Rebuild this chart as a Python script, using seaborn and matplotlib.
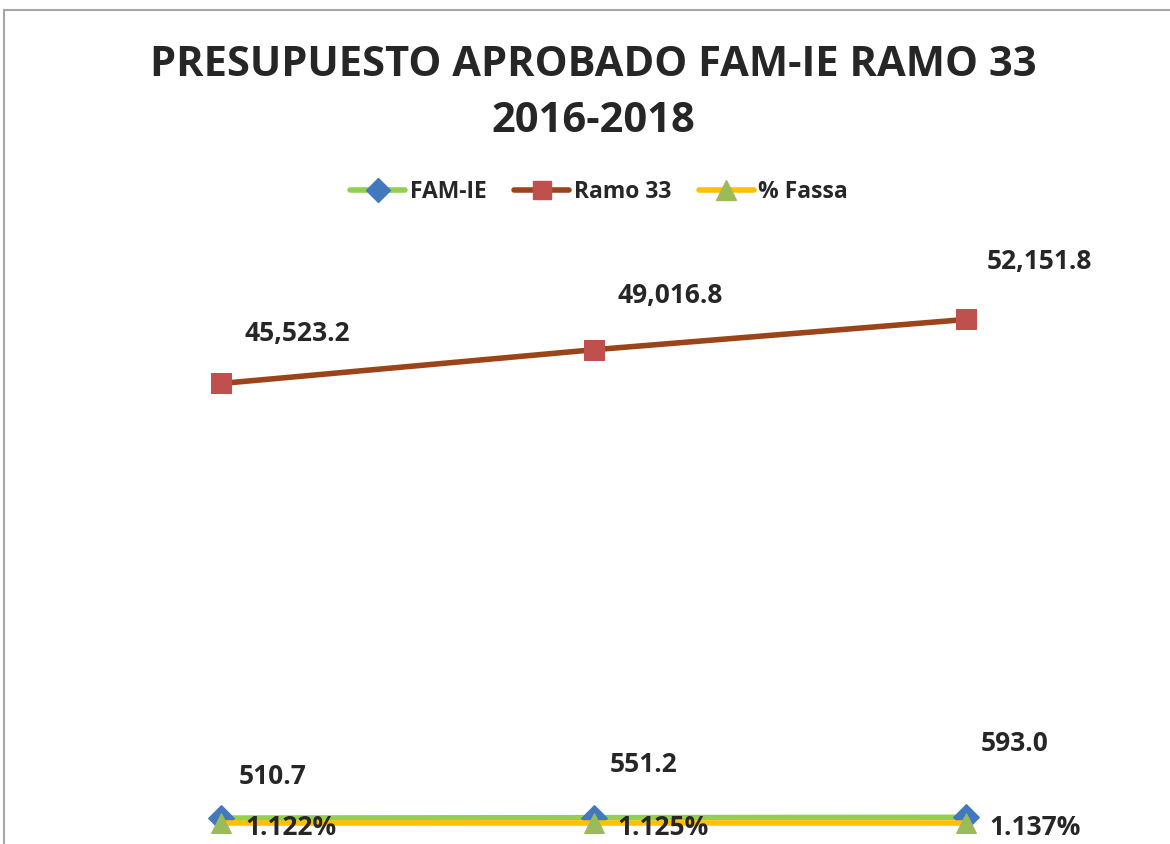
import matplotlib
matplotlib.use("Agg")
import matplotlib.pyplot as plt
from matplotlib.lines import Line2D
import seaborn as sns
import pandas as pd

# Data
years = ["2016", "2017", "2018"]
fam_ie = [510.7, 551.2, 593.0]
ramo_33 = [45523.2, 49016.8, 52151.8]
pct_fassa = [1.122, 1.125, 1.137]

df = pd.DataFrame({"Año": years, "FAM-IE": fam_ie, "Ramo 33": ramo_33, "% Fassa": pct_fassa})

sns.set_theme(style="white")
plt.rcParams["font.family"] = ["Open Sans", "DejaVu Sans"]

fig = plt.figure(figsize=(11.7, 8.44), dpi=100)
ax = fig.add_axes([35 / 1170, 0.0, 1117 / 1170, 600 / 844])

series = [
    ("FAM-IE", "#92D050", "#4178BE", "D", 13),
    ("Ramo 33", "#9C4419", "#C0504D", "s", 14),
    ("% Fassa", "#FFC000", "#9BBB59", "^", 15),
]
x = range(len(years))
handles = []
for name, lc, mc, mk, ms in series:
    sns.lineplot(x=list(x), y=df[name], ax=ax, color=lc, linewidth=4, marker=mk,
                 markersize=ms, markerfacecolor=mc, markeredgecolor=mc, legend=False)
    handles.append(Line2D([], [], color=lc, linewidth=4, marker=mk, markersize=ms - 1,
                          markerfacecolor=mc, markeredgecolor=mc))

ax.set_xlim(-0.5, 2.5)
ax.set_ylim(-2175, 59970)
ax.axis("off")

lbl = dict(fontsize=19, fontweight="bold", color="#262626", ha="center", va="center")
# Ramo 33 labels
for i, v in enumerate(ramo_33):
    off = [(55, 36), (55, 39), (53, 42)][i]
    ax.annotate(f"{v:,.1f}", (i, v), xytext=off, textcoords="offset points", **lbl)
# FAM-IE labels
for i, v in enumerate(fam_ie):
    off = [(37, 30), (36, 38), (35, 53)][i]
    ax.annotate(f"{v:,.1f}", (i, v), xytext=off, textcoords="offset points", **lbl)
# % Fassa labels
for i, v in enumerate(pct_fassa):
    off = [(50, -3), (50, -3), (50, -3)][i]
    ax.annotate(f"{v:.3f}%", (i, v), xytext=off, textcoords="offset points", **lbl)

fig.text(0.507, 1 - 65 / 844, "PRESUPUESTO APROBADO FAM-IE RAMO 33", ha="center", va="center",
         fontsize=30, fontweight="bold", color="#262626")
fig.text(0.507, 1 - 121 / 844, "2016-2018", ha="center", va="center",
         fontsize=30, fontweight="bold", color="#262626")

fig.legend(handles, [s[0] for s in series], loc="center", bbox_to_anchor=(0.512, 1 - 192 / 844),
           ncol=3, frameon=False, handlelength=2.4, columnspacing=1.2, handletextpad=0.2,
           prop={"size": 16.5, "weight": "bold"}, labelcolor="#262626")

# chart border (top and left visible)
fig.add_artist(Line2D([4 / 1170, 4 / 1170], [0, 1 - 10 / 844], color="#A6A6A6", linewidth=1.5))
fig.add_artist(Line2D([4 / 1170, 1], [1 - 10 / 844, 1 - 10 / 844], color="#A6A6A6", linewidth=1.5))

fig.savefig("out.png", dpi=100)
